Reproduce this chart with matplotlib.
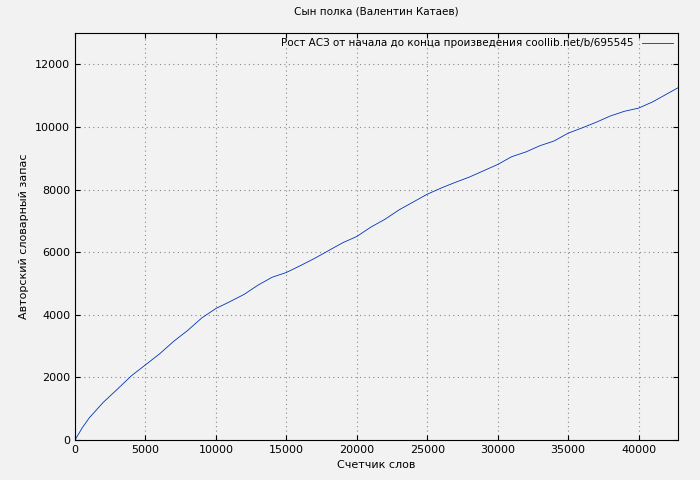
import matplotlib
matplotlib.use("Agg")
import matplotlib.pyplot as plt

words = [0,500,1000,2000,3000,4000,5000,6000,7000,8000,9000,10000,11000,12000,13000,14000,15000,16000,17000,18000,19000,20000,21000,22000,23000,24000,25000,26000,27000,28000,29000,30000,31000,32000,33000,34000,35000,36000,37000,38000,39000,40000,41000,42000,42800]
vocab = [0,380,700,1200,1620,2050,2400,2750,3150,3500,3900,4200,4420,4650,4950,5200,5350,5570,5800,6050,6300,6500,6800,7050,7350,7600,7850,8050,8230,8400,8600,8800,9050,9200,9400,9550,9800,9970,10150,10350,10500,10600,10800,11050,11250]

plt.rcParams['font.family'] = ['DejaVu Sans']
plt.rcParams['font.size'] = 8
fig = plt.figure(figsize=(7,4.8), dpi=100, facecolor='#f2f2f2')
ax = fig.add_axes([75/700, 1-440/480, 603/700, 407/480], facecolor='#f2f2f2')
ax.plot(words, vocab, color='#0033bb', lw=0.6, label='Рост АСЗ от начала до конца произведения coollib.net/b/695545')
ax.set_xlim(0, 42800)
ax.set_ylim(0, 13000)
ax.set_xticks(range(0, 42800, 5000))
ax.set_yticks(range(0, 13000, 2000))
ax.grid(True, linestyle=(0,(1,3)), color='#888888', lw=0.8)
ax.tick_params(direction='in', top=True, right=True)
ax.set_xlabel('Счетчик слов')
ax.set_ylabel('Авторский словарный запас')
ax.set_title('Сын полка (Валентин Катаев)', pad=13, fontsize=7.5)
leg = ax.legend(loc='upper right', frameon=False, handlelength=3, markerfirst=False, borderaxespad=0.1, fontsize=7.5)
fig.savefig('out.png', dpi=100, facecolor=fig.get_facecolor())
